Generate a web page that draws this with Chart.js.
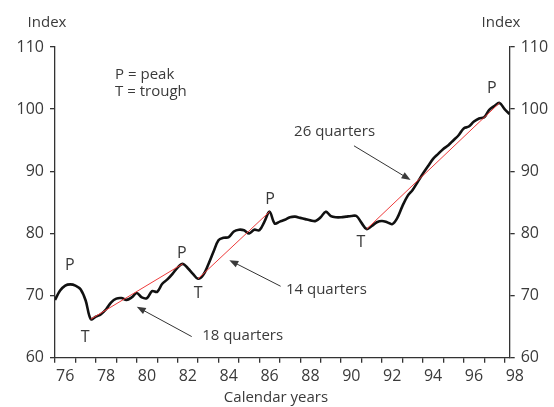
<!DOCTYPE html>
<html>
<head>
<meta charset="utf-8">
<script src="https://cdn.jsdelivr.net/npm/chart.js@4/dist/chart.umd.min.js"></script>
<style>
  html, body { margin: 0; padding: 0; background: #fff; }
  #wrap { width: 554px; height: 407px; position: relative; }
</style>
</head>
<body>
<div id="wrap"><canvas id="chart"></canvas></div>
<script>
// quarterly index, 1976 Q1 .. 1998 Q2
const startYear = 1976;
const indexValues = [
  69.3, 70.8, 71.6, 71.8, 71.6, 71.0, 69.2, 66.2, 66.6, 67.0,
  67.8, 68.9, 69.5, 69.6, 69.3, 69.7, 70.4, 69.7, 69.6, 70.7,
  70.6, 71.9, 72.6, 73.5, 74.5, 75.1, 74.4, 73.5, 72.7, 73.3,
  75.0, 77.0, 78.9, 79.3, 79.4, 80.3, 80.6, 80.5, 80.0, 80.6,
  80.5, 81.9, 83.5, 81.6, 81.9, 82.2, 82.6, 82.7, 82.5, 82.3,
  82.1, 82.0, 82.6, 83.5, 82.8, 82.6, 82.6, 82.7, 82.8, 82.8,
  81.7, 80.7, 81.2, 81.8, 82.0, 81.8, 81.5, 82.5, 84.4, 86.0,
  87.0, 88.3, 89.6, 90.8, 92.0, 92.8, 93.6, 94.2, 95.0, 95.8,
  96.9, 97.2, 98.0, 98.5, 98.7, 99.9, 100.5, 101.0, 100.0, 99.2,
];
// trough -> peak (quarter indexes into indexValues)
const troughs = [7, 28, 61];
const peaks = [25, 42, 87];
const earlyPeak = 3;
const quarterLabels = ["18 quarters", "14 quarters", "26 quarters"];
const yTicks = [60, 70, 80, 90, 100, 110];
const yearLabels = ["76", "78", "80", "82", "84", "86", "88", "90", "92", "94", "96", "98"];

const qx = (i) => startYear + i / 4;
const linePoints = indexValues.map((v, i) => ({ x: qx(i), y: v }));

const trendSets = troughs.map((t, k) => ({
  data: [
    { x: qx(t), y: indexValues[t] },
    { x: qx(peaks[k]), y: indexValues[peaks[k]] },
  ],
  borderColor: "#ee3b3b",
  borderWidth: 1,
  pointRadius: 0,
  tension: 0,
}));

const FONT = "'Open Sans', 'DejaVu Sans', sans-serif";
const INK = "#3a3a3a";

// annotation placement (data coords)
const ptLabels = [
  { t: "P", x: 1976.73, y: 74.8 },
  { t: "T", x: 1977.47, y: 63.2 },
  { t: "P", x: 1982.21, y: 76.7 },
  { t: "T", x: 1983.0, y: 70.4 },
  { t: "P", x: 1986.52, y: 85.5 },
  { t: "T", x: 1990.97, y: 78.5 },
  { t: "P", x: 1997.38, y: 103.4 },
];
const arrowSpots = [
  { tx: 1983.2, ty: 63.5, from: [1982.69, 63.4], to: [1980.0, 68.2] },
  { tx: 1987.3, ty: 70.9, from: [1987.04, 71.5], to: [1984.53, 75.7] },
  { tx: 1987.7, ty: 96.4, from: [1990.63, 94.1], to: [1993.4, 88.6] },
];

function drawArrow(ctx, x1, y1, x2, y2) {
  const a = Math.atan2(y2 - y1, x2 - x1);
  const len = 9, half = 3.5;
  ctx.beginPath();
  ctx.moveTo(x1, y1);
  ctx.lineTo(x2 - Math.cos(a) * len * 0.8, y2 - Math.sin(a) * len * 0.8);
  ctx.stroke();
  ctx.beginPath();
  ctx.moveTo(x2, y2);
  ctx.lineTo(x2 - Math.cos(a) * len - Math.sin(a) * half, y2 - Math.sin(a) * len + Math.cos(a) * half);
  ctx.lineTo(x2 - Math.cos(a) * len + Math.sin(a) * half, y2 - Math.sin(a) * len - Math.cos(a) * half);
  ctx.closePath();
  ctx.fill();
}

const notes = {
  id: "notes",
  afterDraw(chart) {
    const { ctx, scales } = chart;
    const xs = scales.x, ys = scales.y;
    ctx.save();
    ctx.fillStyle = INK;
    ctx.strokeStyle = "#333";
    ctx.textBaseline = "middle";

    // axis headers
    ctx.font = `15px ${FONT}`;
    ctx.textAlign = "center";
    ctx.fillText("Index", 47, 23);
    ctx.fillText("Index", 501, 23);
    ctx.fillText("Calendar years", 276, 398);

    // key
    ctx.textAlign = "left";
    ctx.fillText("P = peak", xs.getPixelForValue(1978.94), ys.getPixelForValue(105.6));
    ctx.fillText("T = trough", xs.getPixelForValue(1978.94), ys.getPixelForValue(102.8));

    // peaks / troughs
    ctx.font = `16px ${FONT}`;
    ctx.textAlign = "center";
    for (const p of ptLabels) {
      ctx.fillText(p.t, xs.getPixelForValue(p.x), ys.getPixelForValue(p.y));
    }

    // quarter arrows
    ctx.font = `15px ${FONT}`;
    ctx.textAlign = "left";
    ctx.lineWidth = 1;
    arrowSpots.forEach((a, k) => {
      ctx.fillText(quarterLabels[k], xs.getPixelForValue(a.tx), ys.getPixelForValue(a.ty));
      drawArrow(
        ctx,
        xs.getPixelForValue(a.from[0]), ys.getPixelForValue(a.from[1]),
        xs.getPixelForValue(a.to[0]), ys.getPixelForValue(a.to[1]),
      );
    });
    ctx.restore();
  },
};

const yAxis = (pos, width) => ({
  type: "linear",
  position: pos,
  min: 60,
  max: 110,
  afterBuildTicks: (s) => { s.ticks = yTicks.map((v) => ({ value: v })); },
  afterFit: (s) => { s.width = width; },
  border: { display: true, color: "#333", width: 1.3 },
  grid: { drawOnChartArea: false, drawTicks: true, tickLength: 5, color: "#333", lineWidth: 1.3 },
  ticks: { color: INK, padding: 6, font: { family: FONT, size: 16 } },
});

new Chart(document.getElementById("chart"), {
  type: "line",
  data: {
    datasets: [
      {
        data: linePoints,
        borderColor: "#111",
        borderWidth: 2.6,
        pointRadius: 0,
        tension: 0.35,
      },
      ...trendSets,
    ].reverse(),
  },
  options: {
    responsive: true,
    maintainAspectRatio: false,
    animation: false,
    layout: { padding: { top: 47, left: 0, right: 0, bottom: 0 } },
    plugins: { legend: { display: false }, tooltip: { enabled: false } },
    scales: {
      x: {
        type: "linear",
        min: startYear,
        max: 1998.25,
        afterBuildTicks: (s) => {
          const t = [];
          for (let y = startYear; y <= 1998; y++) t.push({ value: y });
          s.ticks = t;
        },
        afterFit: (s) => { s.height = 49.3; },
        border: { display: true, color: "#333", width: 1.3 },
        grid: { drawOnChartArea: false, drawTicks: true, tickLength: 5, color: "#333", lineWidth: 1.3 },
        ticks: {
          color: INK,
          padding: 4,
          maxRotation: 0,
          autoSkip: false,
          labelOffset: 10.2,
          font: { family: FONT, size: 16 },
          callback: (v) => ((v - startYear) % 2 === 0 ? yearLabels[(v - startYear) / 2] : ""),
        },
      },
      y: yAxis("left", 55),
      y2: yAxis("right", 44.3),
    },
  },
  plugins: [notes],
});
</script>
</body>
</html>
